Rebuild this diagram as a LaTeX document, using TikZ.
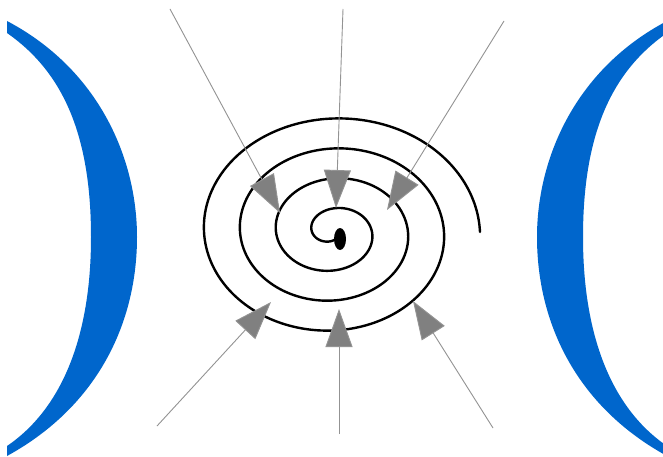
\documentclass[tikz,border=0pt]{standalone}
\usetikzlibrary{arrows.meta,shapes.geometric}
\definecolor{crescentblue}{HTML}{0066CC}
\definecolor{arrowgray}{HTML}{808080}
\tikzset{
  crescent/.style={fill=crescentblue, draw=none},
  spiralline/.style={draw=black, line width=2.4pt, line cap=round},
  pointer/.style={draw=arrowgray!85, line width=0.9pt,
    -{Triangle[length=38pt, width=27pt, fill=arrowgray]}, shorten >=0pt},
}
\begin{document}
\begin{tikzpicture}[x=1pt, y=-1pt]
\useasboundingbox (0,0) rectangle (663,457);
\fill[white] (0,0) rectangle (663,457);
\clip (0,0) rectangle (663,457);
% left crescent
\path[crescent] (7,21) .. controls (100,70) and (137,160) .. (137,237)
  .. controls (137,320) and (100,405) .. (7,456)
  -- (7,446) .. controls (60,410) and (91,340) .. (91,237)
  .. controls (91,130) and (60,70) .. (7,33) -- cycle;
% right crescent
\path[crescent] (667,21) .. controls (574,70) and (537,160) .. (537,237)
  .. controls (537,320) and (574,405) .. (667,456)
  -- (667,446) .. controls (614,410) and (583,340) .. (583,237)
  .. controls (583,130) and (614,70) .. (667,33) -- cycle;
% spiral
\draw[spiralline] plot[domain=0:1380, samples=400, smooth]
  ({333+(147-0.1*\x)*cos(\x)}, {232-(121-0.0833*\x)*sin(\x)});
\node[fill=black, ellipse, minimum width=12pt, minimum height=22pt, inner sep=0pt] (dot) at (340,239) {};
% arrow ends
\coordinate (s1) at (170,9);   \coordinate (t1) at (280,213);
\coordinate (s2) at (343,9);   \coordinate (t2) at (336,208);
\coordinate (s3) at (504,21);  \coordinate (t3) at (387,210);
\coordinate (s4) at (157,426); \coordinate (t4) at (271,302);
\coordinate (s5) at (339,434); \coordinate (t5) at (339,309);
\coordinate (s6) at (493,428); \coordinate (t6) at (413,301);
\foreach \i in {1,...,6} { \draw[pointer] (s\i) -- (t\i); }
\end{tikzpicture}
\end{document}
